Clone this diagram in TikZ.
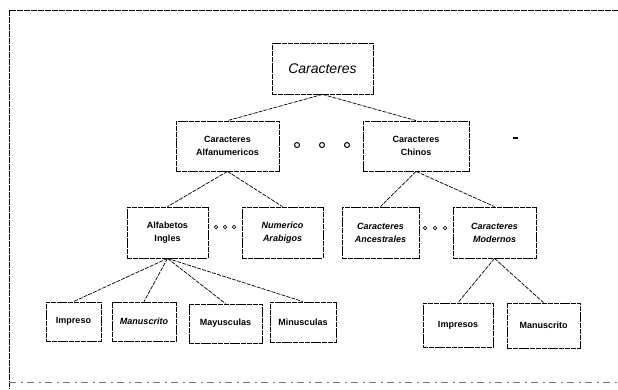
\documentclass[tikz,border=0pt]{standalone}
\usepackage{fontspec}
\setsansfont{Liberation Sans}
\usepackage{tikz}

\begin{document}
\begin{tikzpicture}[x=1pt,y=-1pt,>=latex,
  box/.style={draw=black,line width=0.8pt,dash pattern=on 5pt off 0.8pt,
    inner sep=0pt,align=center,font=\sffamily\bfseries\fontsize{9}{13}\selectfont},
  schraeg/.style={font=\sffamily\bfseries\itshape\fontsize{9}{13}\selectfont},
  ast/.style={draw=black,line width=0.7pt,dash pattern=on 4pt off 1.2pt},
  punkt/.style={draw=black,line width=1pt,circle,inner sep=0pt,minimum size=5pt},
  pkt/.style={draw=black,line width=0.7pt,circle,inner sep=0pt,minimum size=3.5pt}]

\useasboundingbox (0,0) rectangle (618,389);

%Rahmen
\draw[line width=0.8pt,dash pattern=on 6pt off 1pt] (618,10) -- (9,10) -- (9,389);
\draw[black!55,line width=0.6pt,dash pattern=on 7pt off 5pt on 2pt off 4pt] (9,382) -- (618,382);

%Kaesten
\node[box,minimum width=101pt,minimum height=51pt,font=\sffamily\itshape\fontsize{14}{16}\selectfont] (car) at (322.5,68.5) {Caracteres};

\node[box,minimum width=103pt,minimum height=50pt] (alfa) at (227.5,146) {Caracteres\\Alfanumericos};
\node[box,minimum width=106pt,minimum height=50pt] (chin) at (416,146) {Caracteres\\Chinos};

\node[box,minimum width=81pt,minimum height=51pt] (ingl) at (167.5,232.5) {Alfabetos\\Ingles};
\node[box,schraeg,minimum width=81pt,minimum height=51pt] (arab) at (282.5,232.5) {Numerico\\Arabigos};
\node[box,schraeg,minimum width=77pt,minimum height=51pt] (anc) at (380.5,232.5) {Caracteres\\Ancestrales};
\node[box,schraeg,minimum width=83pt,minimum height=51pt] (mod) at (494.5,232.5) {Caracteres\\Modernos};

\node[box,minimum width=55pt,minimum height=39pt] (imp) at (73.5,321.5) {Impreso};
\node[box,schraeg,minimum width=64pt,minimum height=39pt] (man) at (144,321.5) {Manuscrito};
\node[box,minimum width=73pt,minimum height=39pt] (may) at (225.5,323.5) {Mayusculas};
\node[box,minimum width=66pt,minimum height=40pt] (min) at (303,322) {Minusculas};

\node[box,minimum width=70pt,minimum height=44pt] (imps) at (458,325) {Impresos};
\node[box,minimum width=73pt,minimum height=45pt] (mans) at (543.5,325.5) {Manuscrito};

%Punkte
\foreach \px in {297,322,347} \node[punkt] at (\px,145) {};
\foreach \px in {216,225,234} \node[pkt] at (\px,227) {};
\foreach \px in {425,435,445} \node[pkt] at (\px,228) {};
\fill (513,136.5) rectangle (517.5,138.5);

%Verbindungen
\draw[ast] (car.south) -- (alfa.north);
\draw[ast] (car.south) -- (chin.north);
\draw[ast] (alfa.south) -- (ingl.north);
\draw[ast] (alfa.south) -- (arab.north);
\draw[ast] (chin.south) -- (anc.north);
\draw[ast] (chin.south) -- (mod.north);
\foreach \k in {imp,man,may,min} \draw[ast] (ingl.south) -- (\k.north);
\draw[ast] (mod.south) -- (imps.north);
\draw[ast] (mod.south) -- (mans.north);

\end{tikzpicture}
\end{document}
